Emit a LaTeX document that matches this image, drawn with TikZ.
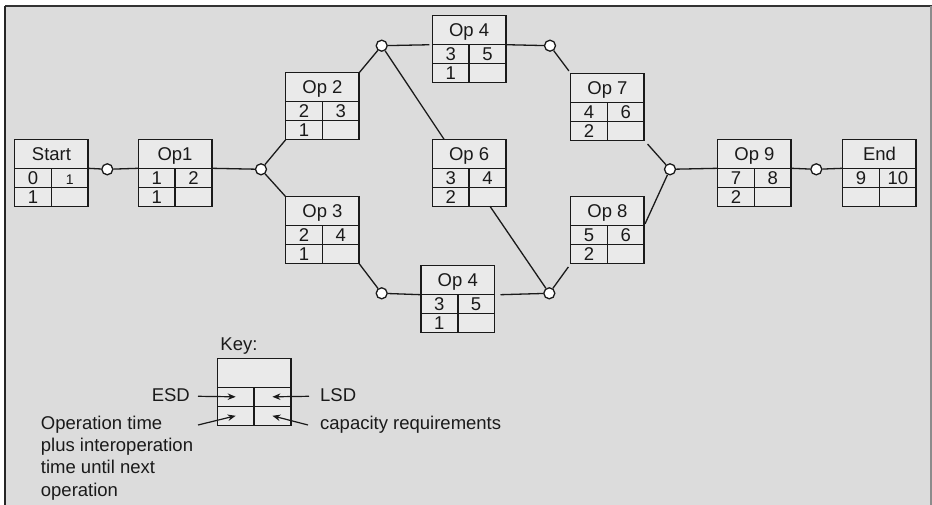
\documentclass[tikz,border=0pt]{standalone}
\usepackage{fontspec}
\setmainfont{Liberation Sans}
\usetikzlibrary{arrows.meta,calc}
\definecolor{bgc}{HTML}{DCDCDC}
\definecolor{boxc}{HTML}{EAEAEA}
\definecolor{ink}{HTML}{1A1A1A}
\newcommand{\opbox}[6]{%
  \node[hdr] (#1-h) at (#2) {#3};
  \node[cell] (#1-a) at (#1-h.south west) {#4};
  \node[cell] (#1-b) at (#1-h.south) {#5};
  \node[cell] (#1-c) at (#1-a.south west) {#6};
  \node[cell] (#1-d) at (#1-a.south east) {};
}
\begin{document}
\begin{tikzpicture}[x=1pt,y=-1pt,
  every node/.style={font=\fontsize{18.5}{22.3}\selectfont, text=ink},
  hdr/.style={draw=ink, line width=1.5pt, fill=boxc, anchor=north west, minimum width=73.5pt, minimum height=29pt, inner sep=0pt, outer sep=0pt, text height=13pt, text depth=0pt},
  cell/.style={draw=ink, line width=1.5pt, fill=boxc, anchor=north west, minimum width=36.75pt, minimum height=19pt, inner sep=0pt, outer sep=0pt, text height=13pt, text depth=0pt},
  conn/.style={draw=ink, line width=1.3pt},
  junc/.style={circle, draw=ink, line width=1.3pt, fill=white, minimum size=11pt, inner sep=0pt},
  keyarrow/.style={draw=ink, line width=1.2pt, -{Stealth[length=8pt,width=6.5pt]}},
  lbl/.style={inner sep=0pt}]
\useasboundingbox (0,0) rectangle (932,505);
% frame
\fill[bgc] (5,6) rectangle (932,505);
\draw[line width=2pt, draw=black!80] (5,6) -- (932,6);
\draw[line width=1.6pt, draw=black!85] (5,6) -- (5,505);
\draw[line width=1.5pt, draw=black!45] (931,6) -- (931,505);

% boxes
\opbox{Start}{14.7,139.3}{Start}{0}{{\fontsize{14}{16}\selectfont 1}}{1}
\opbox{OpOne}{138.3,139.3}{Op1}{1}{2}{1}
\opbox{OpTwo}{285.7,72.7}{Op 2}{2}{3}{1}
\opbox{OpThree}{285.7,196.7}{Op 3}{2}{4}{1}
\opbox{OpFourA}{432.3,15.7}{Op 4}{3}{5}{1}
\opbox{OpSix}{432.3,139.3}{Op 6}{3}{4}{2}
\opbox{OpFourB}{421,265.7}{Op 4}{3}{5}{1}
\opbox{OpSeven}{570.7,73.3}{Op 7}{4}{6}{2}
\opbox{OpEight}{570.7,196.7}{Op 8}{5}{6}{2}
\opbox{OpNine}{717.7,139.3}{Op 9}{7}{8}{2}
\opbox{End}{842.7,139.3}{End}{9}{10}{}

% junction circles
\node[junc] (c1) at (107.3,169.3) {};
\node[junc] (j1) at (261,169.3) {};
\node[junc] (c2) at (381.7,45.7) {};
\node[junc] (c3) at (550,45.7) {};
\node[junc] (c4) at (381.7,293.3) {};
\node[junc] (c5) at (549.3,293.3) {};
\node[junc] (j2) at (670,169.3) {};
\node[junc] (c6) at (816.3,169.3) {};

% connectors
\draw[conn] (Start-h.south east) -- (c1);
\draw[conn] (c1) -- (OpOne-h.south west);
\draw[conn] (OpOne-h.south east) -- (j1);
\draw[conn] (j1) -- (OpTwo-c.south west);
\draw[conn] (j1) -- (OpThree-h.north west);
\draw[conn] (OpTwo-h.north east) -- (c2);
\draw[conn, shorten >=3pt] (c2) -- (OpFourA-h.south west);
\draw[conn] (OpFourA-h.south east) -- (c3);
\draw[conn, shorten >=3pt] (c3) -- (OpSeven-h.north west);
\draw[conn] (c2) -- ($(OpSix-h.north west)!0.16!(OpSix-h.north east)$);
\draw[conn] ($(OpSix-d.south west)!0.57!(OpSix-d.south east)$) -- (c5);
\draw[conn] (OpThree-d.south east) -- (c4);
\draw[conn] (c4) -- (OpFourB-h.south west);
\draw[conn] ([xshift=6pt]OpFourB-h.south east) -- (c5);
\draw[conn, shorten >=4pt] (c5) -- (OpEight-c.south west);
\draw[conn, shorten <=5pt] (OpSeven-d.south east) -- (j2);
\draw[conn, shorten <=2pt] (OpEight-b.north east) -- (j2);
\draw[conn] (j2) -- (OpNine-h.south west);
\draw[conn] (OpNine-h.south east) -- (c6);
\draw[conn] (c6) -- (End-h.south west);

% key
\opbox{Key}{217.3,358.3}{}{}{}{}
\node[lbl, anchor=base] (keylbl) at (239,350.7) {Key:};
\node[lbl, anchor=base east] (esd) at (190,401.7) {ESD};
\node[lbl, anchor=base west] (lsd) at (320,401.7) {LSD};
\node[lbl, anchor=base west] (cap) at (320,429.3) {capacity requirements};
\node[lbl, anchor=base west] (opt1) at (40.7,429.3) {Operation time};
\node[lbl, anchor=base west] (opt2) at (40.7,451.7) {plus interoperation};
\node[lbl, anchor=base west] (opt3) at (40.7,473.9) {time until next};
\node[lbl, anchor=base west] (opt4) at (40.7,496.1) {operation};
\coordinate (esdS) at (198,396.3);
\coordinate (lsdS) at (309,396.3);
\coordinate (optS) at (198,425);
\coordinate (capS) at (308,425);
\draw[keyarrow] (esdS) -- (Key-a.center);
\draw[keyarrow] (lsdS) -- (Key-b.center);
\draw[keyarrow] (optS) -- (Key-c.center);
\draw[keyarrow] (capS) -- (Key-d.center);
\end{tikzpicture}
\end{document}
